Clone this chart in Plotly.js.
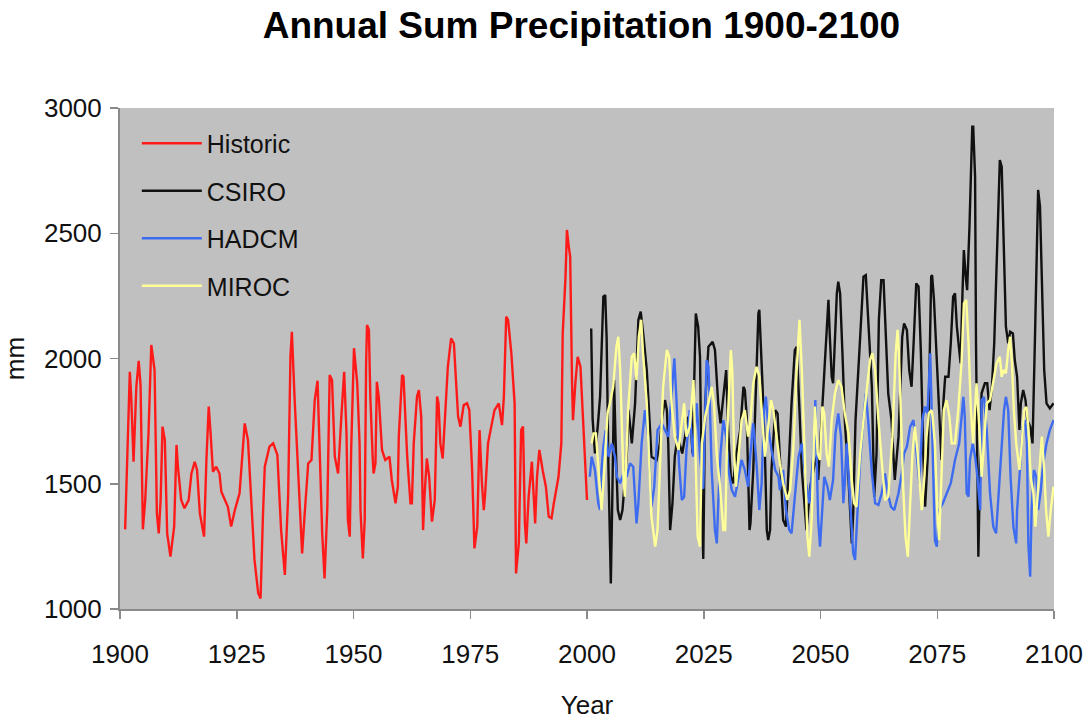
<!DOCTYPE html>
<html>
<head>
<meta charset="utf-8">
<script src="https://cdn.plot.ly/plotly-3.0.1.min.js"></script>
<style>html,body{margin:0;padding:0;background:#fff;}#chart{width:1087px;height:721px;}</style>
</head>
<body>
<div id="chart"></div>
<script>
const histYears = [1901.1,1902.1,1902.4,1902.8,1902.9,1903.5,1904.0,1904.4,1904.9,1905.4,1906.1,1906.7,1907.4,1907.9,1908.3,1908.7,1909.1,1909.6,1910.1,1910.8,1911.6,1912.1,1912.4,1913.1,1913.8,1914.7,1915.3,1916.0,1916.5,1917.1,1918.0,1918.5,1919.0,1919.4,1919.9,1920.6,1921.3,1921.7,1923.1,1923.8,1924.6,1925.6,1926.7,1927.4,1928.1,1928.8,1929.6,1930.1,1930.6,1931.0,1932.0,1932.8,1933.7,1934.5,1935.3,1936.0,1936.5,1936.8,1937.4,1938.5,1939.0,1939.5,1940.3,1941.0,1941.7,1942.3,1942.8,1943.3,1943.8,1944.4,1944.9,1945.4,1946.0,1946.7,1947.4,1948.0,1948.5,1948.8,1949.2,1949.5,1950.1,
1950.8,1951.3,1951.5,1952.0,1952.4,1952.7,1952.9,1953.3,1953.6,1954.1,1954.3,1954.7,1955.0,1955.4,1956.1,1956.8,1957.7,1958.2,1959.0,1959.5,1959.7,1960.4,1960.7,1961.5,1962.2,1962.5,1962.9,1963.6,1964.0,1964.5,1964.9,1965.2,1965.7,1966.2,1966.8,1967.4,1967.9,1968.2,1968.6,1969.1,1969.7,1970.2,1970.9,1971.5,1971.9,1972.4,1972.9,1973.6,1974.3,1974.8,1975.4,1975.9,1976.5,1977.0,1977.5,1977.9,1978.2,1978.8,1979.5,1980.2,1981.1,1981.8,1982.2,1982.7,1983.1,1983.8,1984.5,1984.7,1984.8,1985.4,1985.9,1986.3,1986.7,1987.0,1987.5,1988.2,1988.9,1989.3,1989.8,1990.5,1991.2,1991.8,1992.4,1992.9,1993.9,1994.5,1994.8,1995.4,1995.7,1996.1,1996.4,1996.8,1997.0,1997.5,1998.0,1998.6,1999.1,1999.6,2000.0];
const histValues = [1318,1947,1848,1635,1588,1888,1991,1894,1318,1435,1701,2054,1954,1382,1302,1435,1728,1675,1302,1209,1329,1655,1568,1435,1402,1435,1541,1588,1555,1382,1289,1595,1808,1701,1548,1568,1541,1468,1408,1329,1395,1462,1741,1675,1435,1196,1063,1042,1368,1568,1648,1661,1615,1315,1136,1448,2007,2107,1834,1408,1222,1368,1581,1595,1834,1911,1634,1302,1122,1408,1934,1914,1608,1541,1768,1947,1701,1355,1289,1635,2041,
1901,1661,1395,1202,1355,1981,2134,2114,1848,1608,1541,1581,1907,1848,1635,1595,1608,1515,1422,1488,1688,1934,1927,1608,1422,1422,1661,1848,1874,1768,1315,1448,1601,1528,1349,1435,1848,1821,1661,1601,1794,1967,2080,2060,1927,1768,1728,1814,1821,1794,1555,1242,1329,1714,1502,1395,1462,1661,1728,1794,1821,1734,1848,2167,2154,2021,1821,1275,1142,1262,1714,1728,1342,1262,1448,1588,1342,1528,1635,1555,1488,1369,1362,1422,1528,1661,2100,2327,2513,2446,2406,1901,1754,1901,2007,1967,1794,1581,1435];

const csiroYears = [2000.9,2001.2,2001.7,2002.3,2002.8,2003.1,2003.5,2003.9,2004.2,2004.6,2004.9,2005.1,2005.4,2005.8,2006.1,2006.6,2007.1,2007.6,2008.5,2008.9,2009.6,2010.3,2011.0,2011.5,2012.1,2012.8,2013.5,2013.8,2014.4,2014.9,2015.6,2016.1,2016.7,2017.1,2017.4,2017.8,2018.3,2018.8,2019.4,2019.9,2020.4,2021.7,2022.3,2022.6,2023.0,2023.3,2023.8,2024.2,2024.6,2024.9,2025.3,2026.0,2026.9,2027.4,2028.1,2028.6,2029.2,2029.8,2030.3,2030.8,2031.3,2032.0,2032.8,2033.5,2033.8,2034.2,2034.8,2035.0,2035.6,2036.2,2036.7,2036.9,2037.2,2037.6,2038.1,2038.5,2038.8,2039.2,2039.5,2040.3,2040.8,2041.3,2042.0,2042.6,2043.1,2043.8,2044.5,2044.9,2045.5,2046.0,2047.0,2047.8,2048.5,2049.2,2049.5,2050.2,2051.3,2051.7,2052.0,2052.4,2052.7,2053.1,2053.5,2053.8,2054.2,2054.7,2055.2,2056.0,2056.7,2057.0,2057.5,2058.5,2059.2,2059.7,2060.2,2061.0,2061.5,2062.0,2062.5,2063.0,2063.5,2063.8,2064.5,2065.2,2065.9,2066.7,2067.5,2067.9,2068.5,2069.0,2069.5,2070.0,2070.5,2071.0,2071.5,2072.0,2072.4,2073.0,2073.4,2073.7,2073.9,2074.3,2074.9,2075.4,2075.9,2076.3,2076.7,2077.4,2077.9,2078.4,2078.8,2079.2,2079.7,2080.0,2080.4,2080.7,2081.1,2081.4,2081.9,2082.2,2082.5,2082.7,2083.1,2083.3,2083.6,2083.8,2084.2,2084.5,2085.2,2085.7,2086.2,2086.7,2087.2,2087.7,2088.1,2088.4,2088.8,2089.3,2089.7,2090.2,2090.6,2091.2,2091.6,2092.1,2092.6,2092.9,2093.4,2093.9,2094.3,2094.9,2095.4,2095.9,2096.3,2096.6,2097.0,2097.4,2097.9,2098.4,2099.1,2099.9];
const csiroValues = [2120,1760,1621,1728,1848,2007,2247,2253,2087,1555,1182,1102,1422,1914,1688,1395,1355,1395,1608,1795,1661,1821,2154,2187,2087,1954,1715,1608,1601,1595,1661,1768,1834,1794,1661,1315,1422,1608,1688,1648,1621,1768,1714,1621,1954,2180,2127,2007,1422,1200,1821,2047,2067,2034,1821,1741,1848,1954,1688,1528,1502,1621,1714,1887,1874,1768,1315,1342,1555,1887,2180,2194,2087,1887,1621,1315,1275,1315,1555,1794,1781,1608,1355,1329,1555,1821,2034,2047,1794,1555,1315,1488,1555,1608,1515,1754,2087,2234,2087,1927,1901,2114,2260,2307,2260,2021,1754,1515,1262,1382,1754,2087,2327,2333,2180,1887,1448,1621,2154,2313,2313,2154,1861,1754,1515,1688,2087,2140,2114,1954,1887,2087,2300,2287,2021,1621,1408,1621,2021,2327,2333,2234,1994,1794,1595,1821,1927,1927,2061,2247,2260,2127,2034,1981,2260,2433,2327,2273,2526,2726,2925,2925,2726,2061,1661,1209,1595,1861,1901,1901,1794,1887,2061,2393,2593,2792,2766,2460,2127,2061,2107,2100,1994,1927,1715,1821,1874,1834,1754,1728,1661,2061,2460,2673,2606,2327,1954,1821,1801,1821];

const hadcmYears = [2000.6,2001.0,2001.7,2002.4,2002.8,2003.1,2003.5,2004.0,2004.6,2005.3,2006.0,2006.4,2007.1,2007.8,2008.5,2009.2,2009.9,2010.6,2011.0,2011.7,2012.4,2013.1,2013.8,2014.4,2015.1,2016.0,2016.7,2017.4,2018.1,2018.7,2019.2,2019.7,2020.3,2020.8,2021.3,2022.0,2022.7,2023.5,2024.2,2024.9,2025.6,2026.0,2026.3,2026.7,2027.4,2027.8,2028.1,2028.6,2029.2,2029.8,2030.3,2031.0,2031.7,2032.4,2033.1,2033.8,2034.5,2035.0,2035.6,2036.3,2036.9,2037.4,2037.9,2038.3,2038.8,2039.5,2040.3,2041.0,2041.3,2042.0,2042.6,2043.3,2043.8,2044.5,2045.3,2046.0,2046.9,2047.6,2048.5,2048.9,2049.2,2049.5,2049.9,2050.4,2050.8,2051.5,2052.0,2052.7,2053.2,2053.8,2054.4,2054.9,2055.2,2055.6,2056.0,2056.5,2057.0,2057.4,2057.9,2058.5,2059.2,2059.7,2060.2,2061.0,2061.7,2062.4,2063.1,2063.8,2064.4,2065.1,2065.8,2066.7,2067.4,2067.9,2068.5,2069.2,2069.9,2070.6,2071.2,2071.8,2072.4,2072.9,2073.5,2073.8,2074.2,2074.5,2074.9,2075.4,2076.2,2077.0,2077.9,2078.8,2079.7,2080.6,2080.9,2081.3,2081.7,2082.0,2082.6,2083.1,2083.6,2084.2,2084.5,2085.0,2085.6,2086.3,2087.0,2087.6,2088.1,2088.8,2089.3,2089.7,2090.2,2090.7,2091.3,2091.9,2092.1,2092.7,2093.3,2093.8,2094.2,2094.5,2094.9,2095.2,2095.7,2096.2,2096.6,2097.1,2097.7,2098.4,2099.1,2099.9];
const hadcmValues = [1528,1608,1555,1422,1395,1555,1648,1714,1608,1661,1608,1528,1502,1541,1528,1581,1568,1342,1422,1661,1794,1688,1408,1488,1714,1741,1714,1688,1848,2001,1821,1581,1435,1448,1635,1794,1608,1821,1608,1480,1994,1967,1821,1555,1315,1262,1422,1621,1754,1688,1555,1475,1448,1528,1595,1555,1488,1621,1741,1581,1395,1502,1794,1848,1728,1635,1555,1528,1475,1555,1395,1315,1302,1448,1608,1661,1502,1422,1621,1834,1621,1355,1249,1422,1528,1488,1435,1515,1701,1781,1688,1422,1501,1661,1541,1355,1222,1196,1355,1595,1754,1861,1754,1541,1422,1415,1462,1541,1462,1408,1395,1462,1541,1621,1648,1728,1754,1621,1500,1754,1808,1781,2021,1794,1528,1275,1249,1395,1422,1462,1502,1595,1661,1847,1767,1462,1448,1595,1661,1608,1528,1395,1834,1847,1714,1462,1329,1302,1462,1661,1794,1847,1794,1528,1329,1262,1395,1555,1728,1754,1661,1262,1129,1395,1555,1528,1395,1462,1581,1661,1714,1754];

const mirocYears = [2001.0,2001.4,2001.9,2002.3,2002.8,2003.1,2003.7,2004.4,2004.9,2005.6,2006.3,2006.7,2007.1,2007.4,2007.8,2008.1,2008.8,2009.6,2010.1,2010.6,2011.1,2011.6,2012.0,2012.8,2013.3,2013.8,2014.6,2015.1,2015.6,2016.3,2017.1,2017.6,2018.1,2018.8,2019.6,2020.3,2020.8,2021.3,2022.0,2022.8,2023.7,2024.2,2024.6,2025.3,2026.0,2026.7,2027.2,2027.8,2028.5,2029.2,2029.6,2030.0,2030.5,2030.8,2031.1,2031.5,2031.9,2032.4,2033.1,2033.8,2034.5,2035.0,2035.6,2036.3,2036.9,2037.4,2038.1,2038.8,2039.4,2039.9,2040.6,2041.3,2042.0,2042.9,2043.5,2044.2,2044.9,2045.5,2046.0,2046.7,2047.2,2047.6,2048.1,2048.6,2048.8,2049.4,2049.9,2050.4,2050.8,2051.3,2051.8,2052.4,2053.1,2053.8,2054.5,2055.2,2056.0,2056.7,2057.2,2057.7,2058.5,2059.2,2059.9,2060.6,2061.1,2061.7,2062.4,2063.1,2063.8,2064.5,2065.4,2066.1,2066.5,2066.8,2067.2,2067.7,2068.2,2068.7,2069.2,2069.7,2070.2,2070.8,2071.3,2071.7,2072.2,2072.7,2073.2,2073.8,2074.0,2074.5,2075.0,2075.4,2075.9,2076.4,2077.0,2077.6,2078.1,2078.8,2079.5,2080.2,2080.7,2081.2,2081.7,2082.2,2082.7,2083.1,2083.4,2084.0,2084.5,2085.0,2085.6,2086.3,2087.0,2087.7,2088.4,2088.8,2089.2,2089.7,2090.2,2090.6,2091.0,2091.4,2091.9,2092.6,2093.1,2093.6,2094.1,2094.5,2095.0,2095.6,2096.0,2096.4,2097.0,2097.4,2097.9,2098.3,2098.8,2099.3,2099.9];
const mirocValues = [1661,1701,1701,1608,1475,1395,1555,1781,1821,1887,2047,2087,1954,1754,1528,1448,1794,2007,2021,1914,2087,2154,2021,1821,1608,1369,1249,1315,1555,1887,2034,2007,1821,1688,1635,1754,1821,1688,1728,1914,1289,1249,1661,1768,1821,1887,1821,1608,1488,1315,1315,1688,1954,2034,1954,1621,1488,1608,1754,1794,1688,1754,1901,1967,1927,1794,1608,1728,1834,1794,1688,1581,1502,1435,1475,1648,1954,2154,1954,1555,1289,1209,1355,1688,1808,1621,1595,1808,1781,1621,1568,1754,1861,1914,1887,1781,1701,1515,1422,1408,1621,1754,1887,1994,2021,1954,1754,1595,1435,1448,1688,2021,2114,2021,1754,1488,1289,1209,1422,1621,1728,1621,1488,1395,1515,1688,1781,1794,1768,1661,1395,1275,1528,1794,1834,1768,1661,1661,1794,1981,2220,2234,2061,1794,1661,1794,1901,1728,1528,1661,1821,1834,1901,1981,2007,1927,1954,1941,2034,2087,1981,1794,1661,1555,1661,1794,1807,1728,1528,1462,1329,1422,1595,1688,1555,1395,1289,1395,1488];

const seriesNames = ['Historic','CSIRO','HADCM','MIROC'];
const seriesColors = ['#ff1a1a','#111111','#3d6cf0','#ffff99'];
const xTicks = [1900,1925,1950,1975,2000,2025,2050,2075,2100];
const yTicks = [1000,1500,2000,2500,3000];

const xs = [histYears, csiroYears, hadcmYears, mirocYears];
const ys = [histValues, csiroValues, hadcmValues, mirocValues];

const traces = seriesNames.map((n, i) => ({
  x: xs[i], y: ys[i], type: 'scatter', mode: 'lines', name: n,
  legendgroup: n,
  line: {color: seriesColors[i], width: 2.4}
}));

const fontFam = 'Arial, "Liberation Sans", sans-serif';
const layout = {
  width: 1087, height: 721,
  margin: {l: 120, r: 33, t: 108, b: 112},
  paper_bgcolor: '#ffffff',
  plot_bgcolor: '#c0c0c0',
  font: {family: fontFam, color: '#111111', size: 25},
  title: {text: 'Annual Sum Precipitation 1900-2100', font: {family: fontFam, size: 37, weight: 'bold', color: '#000'},
          x: 0.494, xref: 'paper', xanchor: 'center', y: 0.965, yanchor: 'middle'},
  showlegend: true,
  legend: {x: 0.018, y: 0.975, xanchor: 'left', yanchor: 'top', bgcolor: 'rgba(0,0,0,0)',
           font: {family: fontFam, size: 25, color: '#111'}, tracegroupgap: 12, itemwidth: 60},
  xaxis: {range: [1900, 2100], tickvals: xTicks, ticktext: xTicks.map(String),
          showgrid: false, zeroline: false, showline: true, linecolor: '#8a8a8a', linewidth: 2,
          ticks: 'outside', ticklen: 8, tickcolor: '#8a8a8a', tickwidth: 1.5, ticklabelstandoff: 13,
          tickfont: {size: 26},
          title: {text: 'Year', font: {size: 26}, standoff: 28}},
  yaxis: {range: [1000, 3000], tickvals: yTicks, ticktext: yTicks.map(String),
          showgrid: false, zeroline: false, showline: true, linecolor: '#8a8a8a', linewidth: 2,
          ticks: 'outside', ticklen: 8, tickcolor: '#8a8a8a', tickwidth: 1.5, ticklabelstandoff: 3,
          tickfont: {size: 26},
          title: {text: 'mm', font: {size: 26}, standoff: 14}}
};

Plotly.newPlot('chart', traces, layout, {displayModeBar: false, staticPlot: true});
</script>
</body>
</html>
